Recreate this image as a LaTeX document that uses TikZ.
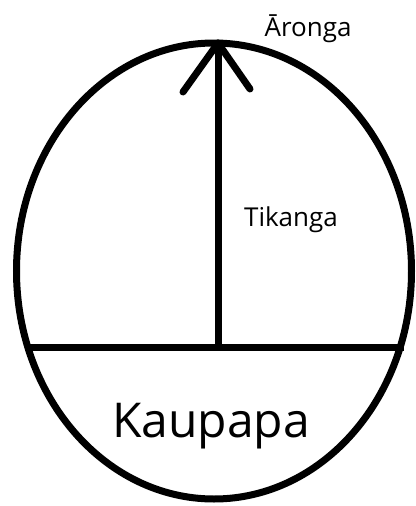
\documentclass[tikz,border=0pt]{standalone}
\usepackage{fontspec}
\setmainfont{Open Sans}
\usepackage{tikz}
\usetikzlibrary{positioning, calc}
\tikzset{
  thickline/.style={line width=7pt, color=black},
  tipline/.style={line width=7pt, color=black, line cap=round},
  lbl/.style={font=\fontsize{26}{30}\selectfont, anchor=base, inner sep=0pt}
}

\begin{document}
\begin{tikzpicture}[x=1pt, y=-1pt]
  \useasboundingbox (0,0) rectangle (415,506);

  % Outer egg
  \draw[thickline] (214,271) ellipse [x radius=197.5, y radius=228];

  % Base line
  \coordinate (baseL) at (25,347);
  \coordinate (baseR) at (404,347);
  \draw[thickline] (baseL) -- (baseR);

  % Shaft and open arrowhead
  \coordinate (foot) at (218,347);
  \coordinate (tip) at (218,43);
  \draw[thickline] (foot) -- (tip);
  \draw[tipline] (tip) -- +(-35,49);
  \draw[tipline] (tip) -- +(32,46);

  % Labels
  \node[lbl] (aronga) at (308,36) {Āronga};
  \node[lbl] (tikanga) at (291,226) {Tikanga};
  \node[lbl, font=\fontsize{48}{56}\selectfont] (kaupapa) at (211,437) {Kaupapa};
\end{tikzpicture}
\end{document}
